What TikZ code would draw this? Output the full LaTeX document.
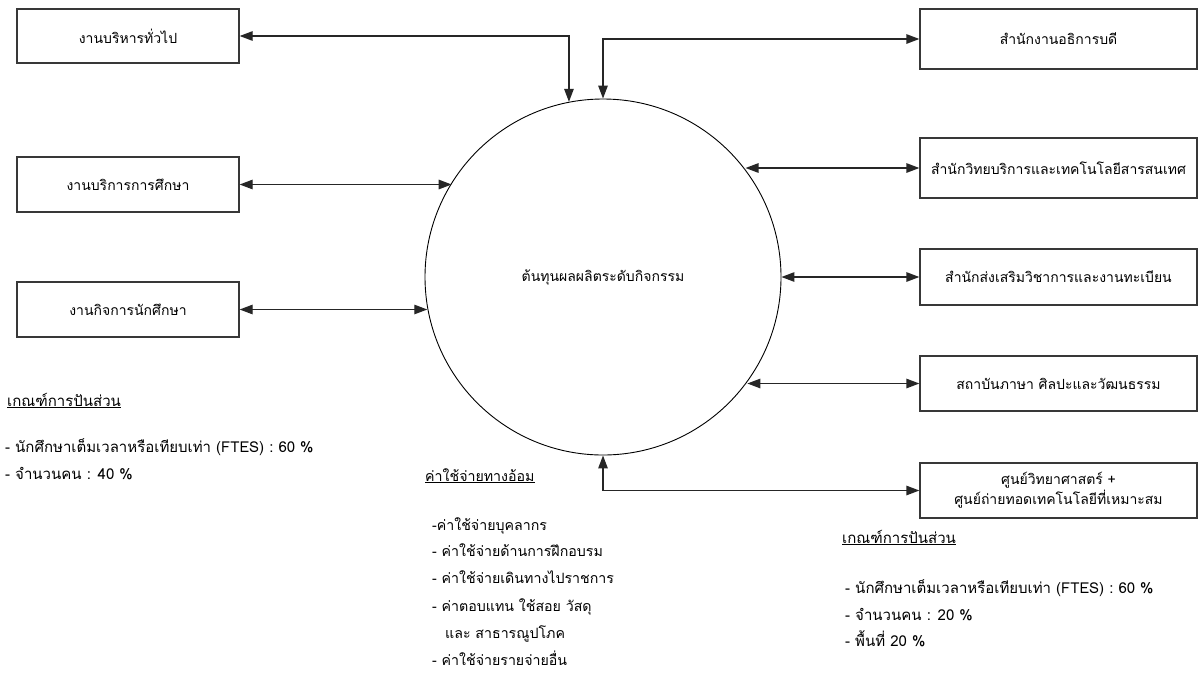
\documentclass[tikz,border=0pt]{standalone}
\usepackage{fontspec}
\setmainfont[Script=Thai]{Loma}
\usetikzlibrary{arrows.meta}
\begin{document}
\begin{tikzpicture}[x=1pt,y=-1pt,
  tip/.tip={Triangle[length=13pt,width=9.5pt]},
  box/.style={draw=black!78, line width=1.3pt, minimum width=222pt, minimum height=55pt, inner sep=2pt, font=\fontsize{14}{20}\selectfont, align=center},
  rbox/.style={box, minimum width=277pt},
  conn/.style={draw=black!85, line width=1.3pt, tip-tip},
  txt/.style={anchor=west, inner sep=0pt, font=\fontsize{15}{18}\selectfont, text height=10pt, text depth=4pt},
  mtxt/.style={txt, font=\fontsize{14.2}{18}\selectfont}]
\useasboundingbox[fill=white] (0,0) rectangle (1202,673);

% centre circle
\node[circle, draw=black, line width=0.9pt, minimum size=356pt, inner sep=0pt, font=\fontsize{14}{17}\selectfont] (c) at (603,277) {ต้นทุนผลผลิตระดับกิจกรรม};

% left boxes
\node[box, minimum height=54pt] (b1) at (128,36) {งานบริหารทั่วไป};
\node[box] (b2) at (128,184.5) {งานบริการการศึกษา};
\node[box] (b3) at (128,309.5) {งานกิจการนักศึกษา};

% right boxes
\node[rbox, minimum height=60pt] (r1) at (1058.5,39) {สำนักงานอธิการบดี};
\node[rbox, minimum height=60pt] (r2) at (1058.5,168) {สำนักวิทยบริการและเทคโนโลยีสารสนเทศ};
\node[rbox, minimum height=56pt] (r3) at (1058.5,277) {สำนักส่งเสริมวิชาการและงานทะเบียน};
\node[rbox, minimum height=55pt] (r4) at (1058.5,383.5) {สถาบันภาษา ศิลปะและวัฒนธรรม};
\node[rbox, minimum height=55pt] (r5) at (1058.5,490.5) {ศูนย์วิทยาศาสตร์ +\\ศูนย์ถ่ายทอดเทคโนโลยีที่เหมาะสม};

% connectors
\draw[conn] (b1.east) -| (c.101.7);
\draw[conn] (r1.west) -| (c.north);
\draw[conn] (b2.east) -- (c.148.5 |- b2.east);
\draw[conn] (b3.east) -- (c.190.5 |- b3.east);
\draw[conn] (r2.west) -- (c.37.8 |- r2.west);
\draw[conn] (r3.west) -- (c.east);
\draw[conn] (r4.west) -- (c.-36.7 |- r4.west);
\draw[conn] (c.south) |- (r5.west);

% left legend
\node[txt] (lh) at (7,403) {\underline{เกณฑ์การปันส่วน}};
\node[txt] (l1) at (5,449) {- นักศึกษาเต็มเวลาหรือเทียบเท่า (FTES) : 60 \%};
\node[txt] (l2) at (5,476) {- จำนวนคน : 40 \%};

% middle legend
\node[mtxt] (mh) at (425,478) {\underline{ค่าใช้จ่ายทางอ้อม}};
\node[mtxt] (m1) at (432,527) {-ค่าใช้จ่ายบุคลากร};
\node[mtxt] (m2) at (432,553) {- ค่าใช้จ่ายด้านการฝึกอบรม};
\node[mtxt] (m3) at (432,580) {- ค่าใช้จ่ายเดินทางไปราชการ};
\node[mtxt] (m4) at (432,608) {- ค่าตอบแทน ใช้สอย วัสดุ};
\node[mtxt] (m5) at (445,635) {และ สาธารณูปโภค};
\node[mtxt] (m6) at (432,662) {- ค่าใช้จ่ายรายจ่ายอื่น};

% right legend
\node[txt] (rh) at (842,540) {\underline{เกณฑ์การปันส่วน}};
\node[txt] (q1) at (845,590) {- นักศึกษาเต็มเวลาหรือเทียบเท่า (FTES) : 60 \%};
\node[txt] (q2) at (845,617) {- จำนวนคน : 20 \%};
\node[txt] (q3) at (845,643) {- พื้นที่ 20 \%};
\end{tikzpicture}
\end{document}
